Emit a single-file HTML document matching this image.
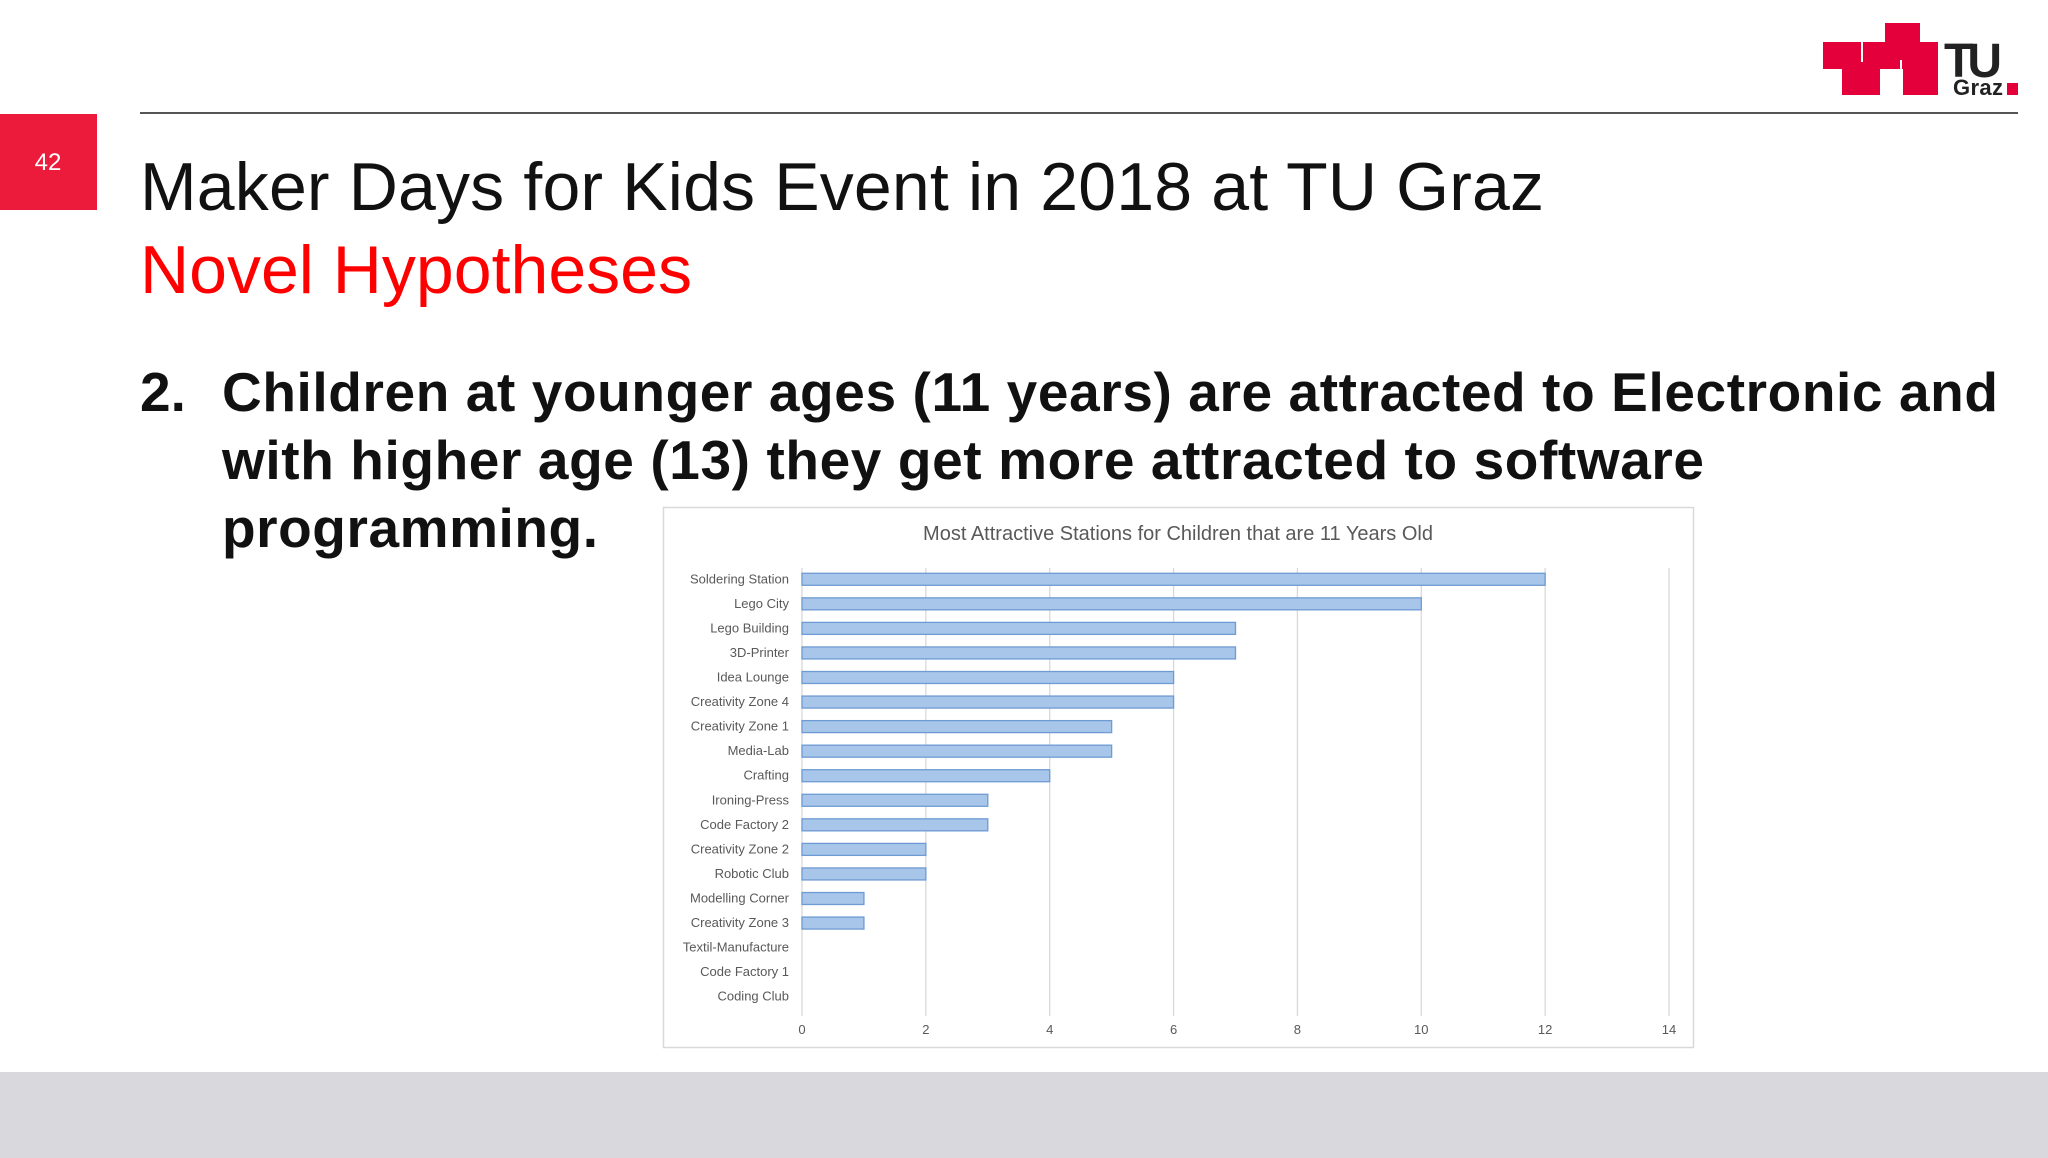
<!DOCTYPE html>
<html><head><meta charset="utf-8"><style>
html,body{margin:0;padding:0;background:#fff;}
svg{display:block;font-family:"Liberation Sans",Arial,sans-serif;}
</style></head><body>
<svg id="s" width="2048" height="1158" viewBox="0 0 2048 1158" xmlns="http://www.w3.org/2000/svg">
<rect x="0" y="0" width="2048" height="1158" fill="#ffffff"/>
<rect x="0" y="1072" width="2048" height="86" fill="#d9d8dc"/>
<rect x="0" y="114" width="97" height="96" fill="#ec1a3b"/>
<text x="48" y="170" font-size="24" fill="#fff" text-anchor="middle">42</text>
<line x1="140" y1="113" x2="2018" y2="113" stroke="#555" stroke-width="2"/>
<g fill="#e4003a">
<rect x="1823" y="42" width="115" height="27"/>
<rect x="1885" y="23" width="35" height="46"/>
<rect x="1842" y="68" width="38" height="27"/>
<rect x="1903" y="68" width="35" height="27"/>
<rect x="1861" y="42" width="2" height="20" fill="#fff"/>
<rect x="1900" y="60" width="2" height="35" fill="#fff"/>
<text x="1944" y="77" font-size="48" font-weight="bold" fill="#222" textLength="58">TU</text>
<text x="1953" y="95" font-size="22" font-weight="bold" fill="#222" textLength="50">Graz</text>
<rect x="2007" y="83" width="11" height="12"/>
</g>
<text x="140" y="210" font-size="68" fill="#111" textLength="1404">Maker Days for Kids Event in 2018 at TU Graz</text>
<text x="140" y="293" font-size="68" fill="#ff0000" textLength="552">Novel Hypotheses</text>
<g font-size="55" font-weight="bold" fill="#111">
<text x="140" y="411">2.</text>
<text x="222" y="411" textLength="1776">Children at younger ages (11 years) are attracted to Electronic and</text>
<text x="222" y="479" textLength="1482">with higher age (13) they get more attracted to software</text>
<text x="222" y="547" textLength="376">programming.</text>
</g>
<rect x="663.5" y="507.5" width="1030" height="540" fill="#fff" stroke="#d9d9d9" stroke-width="1.5"/>
<text x="1178" y="540" font-size="20" fill="#595959" text-anchor="middle">Most Attractive Stations for Children that are 11 Years Old</text>
<g id="chart"></g>
</svg>
<script>
const categories=["Soldering Station","Lego City","Lego Building","3D-Printer","Idea Lounge","Creativity Zone 4","Creativity Zone 1","Media-Lab","Crafting","Ironing-Press","Code Factory 2","Creativity Zone 2","Robotic Club","Modelling Corner","Creativity Zone 3","Textil-Manufacture","Code Factory 1","Coding Club"];
const values=[12,10,7,7,6,6,5,5,4,3,3,2,2,1,1,0,0,0];
const ticks=[0,2,4,6,8,10,12,14];
const NS="http://www.w3.org/2000/svg";
const g=document.getElementById('chart');
const x0=802,x1=1669,xmax=14,yTop=567,yBot=1009,gridTop=568,gridBot=1016;
const xs=v=>x0+(x1-x0)*v/xmax;
const step=(yBot-yTop)/categories.length;
const yc=i=>yTop+step*(i+0.5);
function mk(t,a){const e=document.createElementNS(NS,t);for(const k in a)e.setAttribute(k,a[k]);g.appendChild(e);return e;}
ticks.forEach(t=>{
 const l=mk('line',{x1:xs(t),x2:xs(t),y1:gridTop,y2:gridBot,stroke:'#d9d9d9','stroke-width':1.3});
 
 
 const tx=mk('text',{x:xs(t),y:1034,'font-size':13,fill:'#595959','text-anchor':'middle'});
 tx.textContent=t;
 
 
});
categories.forEach((c,i)=>{
 const tx=mk('text',{x:789,y:yc(i)+4,'font-size':13,fill:'#595959','text-anchor':'end'});
 tx.textContent=c;
 
 
 if(values[i]>0){
  const r=mk('rect',{x:xs(0),y:yc(i)-6,width:xs(values[i])-xs(0),height:12,fill:'#a7c6ea',stroke:'#6e9bd3','stroke-width':1.3});
  
  
 }
});
</script>
</body></html>
